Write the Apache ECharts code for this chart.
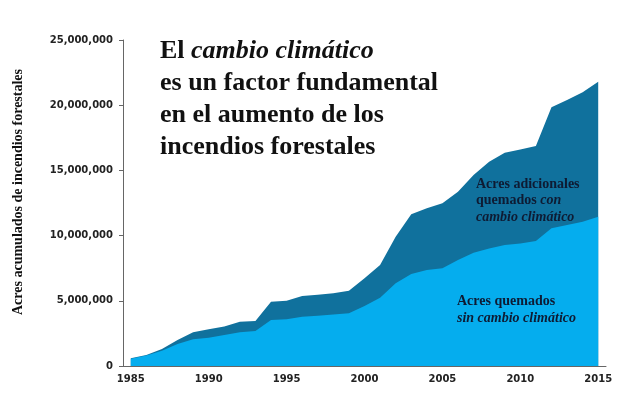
<!DOCTYPE html>
<html>
<head>
<meta charset="utf-8">
<script src="https://cdn.jsdelivr.net/npm/echarts@6/dist/echarts.min.js"></script>
<style>
  html, body { margin: 0; padding: 0; background: #fff; }
  #chart { width: 642px; height: 411px; }
</style>
</head>
<body>
<div id="chart"></div>
<script>
// años del eje x
const years = ['1985','1986','1987','1988','1989','1990','1991','1992','1993','1994',
               '1995','1996','1997','1998','1999','2000','2001','2002','2003','2004',
               '2005','2006','2007','2008','2009','2010','2011','2012','2013','2014','2015'];

// acres acumulados sin cambio climático (área clara)
const sinCambio = [0.55e6, 0.8e6, 1.17e6, 1.69e6, 2.05e6, 2.17e6, 2.38e6, 2.58e6, 2.68e6, 3.53e6,
                   3.58e6, 3.78e6, 3.86e6, 3.94e6, 4.04e6, 4.6e6, 5.24e6, 6.34e6, 7.06e6, 7.36e6,
                   7.5e6, 8.13e6, 8.69e6, 9.02e6, 9.28e6, 9.4e6, 9.59e6, 10.56e6, 10.81e6, 11.07e6, 11.45e6];

// acres acumulados con cambio climático (borde superior del área oscura)
const conCambio = [0.6e6, 0.84e6, 1.3e6, 2.0e6, 2.58e6, 2.81e6, 3.02e6, 3.4e6, 3.45e6, 4.93e6,
                   5.0e6, 5.37e6, 5.47e6, 5.57e6, 5.78e6, 6.72e6, 7.75e6, 9.92e6, 11.63e6, 12.1e6,
                   12.48e6, 13.37e6, 14.65e6, 15.67e6, 16.36e6, 16.6e6, 16.87e6, 19.84e6, 20.4e6, 20.99e6, 21.8e6];

const yTicks = [0, 5000000, 10000000, 15000000, 20000000, 25000000];

const chart = echarts.init(document.getElementById('chart'));

const serif = '"Liberation Serif", "Times New Roman", serif';
const sans = '"DejaVu Sans", Verdana, sans-serif';

const option = {
  animation: false,
  backgroundColor: '#fff',
  grid: { left: 123, right: 36, top: 40, bottom: 45, outerBoundsMode: 'none' },
  title: {
    left: 155,
    top: 30,
    text: '{b|El }{i|cambio climático}\n{b|es un factor fundamental}\n{b|en el aumento de los}\n{b|incendios forestales}',
    textStyle: {
      rich: {
        b: { fontFamily: serif, fontWeight: 'bold', fontSize: 26, color: '#111', lineHeight: 32 },
        i: { fontFamily: serif, fontWeight: 'bold', fontStyle: 'italic', fontSize: 26, color: '#111', lineHeight: 32 }
      }
    }
  },
  xAxis: {
    type: 'category',
    data: years,
    boundaryGap: true,
    axisLine: { lineStyle: { color: '#666', width: 1 } },
    axisTick: { alignWithLabel: true, interval: 4, length: 4, lineStyle: { color: '#666' } },
    axisLabel: { interval: 4, margin: 8, fontFamily: sans, fontWeight: 'bold', fontSize: 10, color: '#222' },
    splitLine: { show: false }
  },
  yAxis: {
    type: 'value',
    min: 0,
    max: 25000000,
    interval: 5000000,
    axisLine: { show: true, lineStyle: { color: '#666', width: 1 } },
    axisTick: { show: true, length: 4, lineStyle: { color: '#666' } },
    axisLabel: {
      margin: 10,
      fontFamily: sans,
      fontWeight: 'bold',
      fontSize: 10,
      color: '#222',
      formatter: function (v) {
        return yTicks.indexOf(v) >= 0 ? v.toLocaleString('en-US') : '';
      }
    },
    splitLine: { show: false }
  },
  series: [
    {
      name: 'con cambio climático',
      type: 'line',
      data: conCambio,
      symbol: 'none',
      lineStyle: { width: 0 },
      areaStyle: { color: '#10719d', opacity: 1 },
      z: 2
    },
    {
      name: 'sin cambio climático',
      type: 'line',
      data: sinCambio,
      symbol: 'none',
      lineStyle: { width: 0 },
      areaStyle: { color: '#05adee', opacity: 1 },
      z: 3
    }
  ],
  graphic: [
    {
      // título del eje y
      type: 'text',
      x: 18,
      y: 192,
      rotation: Math.PI / 2,
      z: 10,
      style: {
        text: 'Acres acumulados de incendios forestales',
        fontFamily: serif,
        fontWeight: 'bold',
        fontSize: 14,
        fill: '#111',
        align: 'center',
        verticalAlign: 'middle'
      }
    },
    {
      type: 'text',
      left: 476,
      top: 177,
      z: 10,
      style: {
        text: '{b|Acres adicionales}\n{b|quemados }{i|con}\n{i|cambio climático}',
        rich: {
          b: { fontFamily: serif, fontWeight: 'bold', fontSize: 14, fill: '#0e1b33', lineHeight: 16.5 },
          i: { fontFamily: serif, fontWeight: 'bold', fontStyle: 'italic', fontSize: 14, fill: '#0e1b33', lineHeight: 16.5 }
        }
      }
    },
    {
      type: 'text',
      left: 457,
      top: 294,
      z: 10,
      style: {
        text: '{b|Acres quemados}\n{i|sin cambio climático}',
        rich: {
          b: { fontFamily: serif, fontWeight: 'bold', fontSize: 14, fill: '#0e1b33', lineHeight: 17 },
          i: { fontFamily: serif, fontWeight: 'bold', fontStyle: 'italic', fontSize: 14, fill: '#0e1b33', lineHeight: 17 }
        }
      }
    }
  ]
};

chart.setOption(option);
</script>
</body>
</html>
